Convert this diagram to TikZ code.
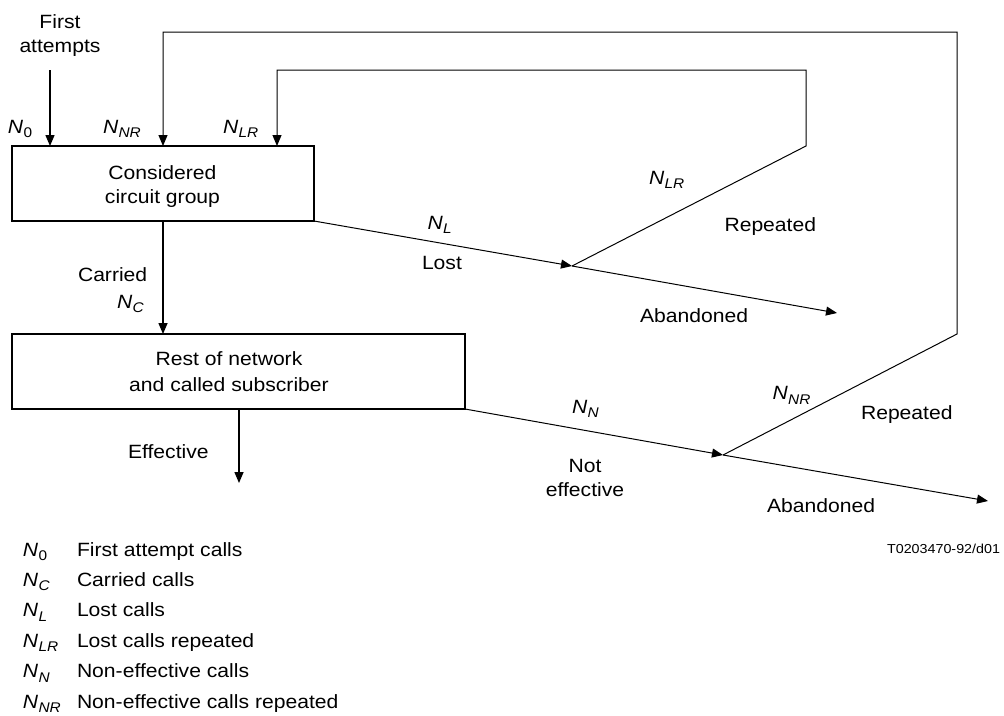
\documentclass[tikz,border=0pt]{standalone}
\usepackage{fontspec}
\setmainfont{Liberation Sans}[FakeStretch=1.1]
\usetikzlibrary{arrows.meta}
\newcommand{\Nsb}[1]{\textit{N}\kern0.3pt\raisebox{-4.5pt}{\fontsize{14}{14}\selectfont #1}}
\begin{document}
\begin{tikzpicture}[x=1pt,y=-1pt,
  every node/.style={font=\fontsize{19.2}{23.5}\selectfont, inner sep=0pt, outer sep=0pt},
  box/.style={draw, line width=1.2pt},
  lbl/.style={anchor=base west},
  ln/.style={line width=1pt},
  arrw/.style={line width=1.5pt},
  tip/.style={-{Triangle[length=11pt,width=9pt]}}]
\useasboundingbox (0,0) rectangle (1004,715);

% boxes
\node[box, minimum width=302pt, minimum height=75pt] (cg) at (163,183.5) {};
\node[align=center] (cgt) at (162.5,186.5) {Considered\\circuit group};
\node[box, minimum width=453pt, minimum height=75pt] (rn) at (238.5,371.5) {};
\node[align=center, font=\fontsize{19.2}{25.5}\selectfont] (rnt) at (229,371.5) {Rest of network\\and called subscriber};

% coordinates
\coordinate (fa) at (50,70);
\coordinate (j1) at (572,266);
\coordinate (e1) at (837,313);
\coordinate (j2) at (723,455);
\coordinate (e2) at (988,501);
\coordinate (eff) at (239,483);
\coordinate (o1) at (957,334);
\coordinate (o2) at (957,32);
\coordinate (o3) at (163,32);
\coordinate (i1) at (806,146);
\coordinate (i2) at (806,70);
\coordinate (i3) at (277,70);

% connectors
\draw[arrw,tip] (fa) -- (fa |- cg.north);
\draw[ln,tip] (j2) -- (o1) -- (o2) -- (o3) -- (o3 |- cg.north);
\draw[ln,tip] (j1) -- (i1) -- (i2) -- (i3) -- (i3 |- cg.north);
\draw[ln,tip] (cg.south east) -- (j1);
\draw[ln,tip] (j1) -- (e1);
\draw[arrw,tip] (cg.south) -- (cg.south |- rn.north);
\draw[ln,tip] (rn.south east) -- (j2);
\draw[ln,tip] (j2) -- (e2);
\draw[arrw,tip] (rn.south -| eff) -- (eff);

% labels
\node[align=center] (first) at (60,35.5) {First\\attempts};
\node[lbl] (n0) at (8,133) {\Nsb{0}};
\node[lbl] (nnr) at (103,133) {\Nsb{\textit{NR}}};
\node[lbl] (nlr) at (223,133) {\Nsb{\textit{LR}}};
\node[lbl] (nl) at (427.5,229) {\Nsb{\textit{L}}};
\node[lbl] (lost) at (422,269) {Lost};
\node[lbl] (nlr2) at (649,184) {\Nsb{\textit{LR}}};
\node[lbl] (rep1) at (724.5,231) {Repeated};
\node[lbl] (ab1) at (640,322) {Abandoned};
\node[lbl] (carr) at (78,281) {Carried};
\node[lbl] (nc) at (117,308) {\Nsb{\textit{C}}};
\node[lbl] (effl) at (128,458) {Effective};
\node[lbl] (nn) at (572,413) {\Nsb{\textit{N}}};
\node[align=center] (noteff) at (585,478) {Not\\effective};
\node[lbl] (nnr2) at (772.6,399.6) {\Nsb{\textit{NR}}};
\node[lbl] (rep2) at (861,419.8) {Repeated};
\node[lbl] (ab2) at (767,512) {Abandoned};
\node[anchor=base east, font=\fontsize{13}{15}\selectfont] (tag) at (1000,553) {T0203470-92/d01};

% legend
\node[lbl] (k1) at (23,556) {\Nsb{0}};
\node[lbl] (t1) at (77,556) {First attempt calls};
\node[lbl] (k2) at (23,586.4) {\Nsb{\textit{C}}};
\node[lbl] (t2) at (77,586.4) {Carried calls};
\node[lbl] (k3) at (23,616.8) {\Nsb{\textit{L}}};
\node[lbl] (t3) at (77,616.8) {Lost calls};
\node[lbl] (k4) at (23,647.2) {\Nsb{\textit{LR}}};
\node[lbl] (t4) at (77,647.2) {Lost calls repeated};
\node[lbl] (k5) at (23,677.6) {\Nsb{\textit{N}}};
\node[lbl] (t5) at (77,677.6) {Non-effective calls};
\node[lbl] (k6) at (23,708) {\Nsb{\textit{NR}}};
\node[lbl] (t6) at (77,708) {Non-effective calls repeated};
\end{tikzpicture}
\end{document}
